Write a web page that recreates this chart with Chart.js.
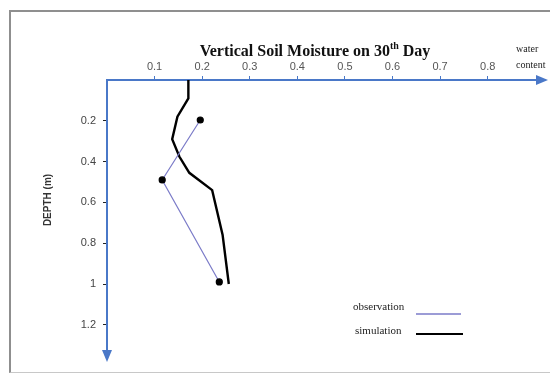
<!DOCTYPE html>
<html>
<head>
<meta charset="utf-8">
<script src="https://cdn.jsdelivr.net/npm/chart.js@4"></script>
<style>
  html, body { margin: 0; padding: 0; background: #fff; }
  #wrap { position: relative; width: 550px; height: 374px; overflow: hidden; }
  #frame { position: absolute; left: 9px; top: 10px; width: 560px; height: 360px; border: 2px solid #8f8f8f; border-right: none; border-bottom: 1px solid #c8c8c8; }
  canvas { position: absolute; left: 0; top: 0; }
</style>
</head>
<body>
<div id="wrap">
  <div id="frame"></div>
  <canvas id="myChart" width="550" height="374"></canvas>
</div>
<script>
// water content (x) vs depth in m (y)
const simDepth = [0, 0.09, 0.18, 0.29, 0.375, 0.455, 0.54, 0.76, 1.0];
const simWater = [0.171, 0.171, 0.148, 0.137, 0.152, 0.173, 0.221, 0.243, 0.256];
const obsDepth = [0.196, 0.49, 0.99];
const obsWater = [0.196, 0.116, 0.236];
const xTicks = [0.1, 0.2, 0.3, 0.4, 0.5, 0.6, 0.7, 0.8];
const yTicks = [0.2, 0.4, 0.6, 0.8, 1, 1.2];

const axisBlue = '#4a78c8';
const obsColor = '#7b7bc8';

function toPoints(xs, ys) {
    return xs.map((v, i) => ({ x: v, y: ys[i] }));
}

// arrows, title, axis labels and the little legend
const decorations = {
    id: 'decorations',
    afterDraw(chart) {
        const ctx = chart.ctx;
        const a = chart.chartArea;
        ctx.save();

        // arrow heads
        ctx.fillStyle = axisBlue;
        ctx.beginPath();
        ctx.moveTo(a.right + 8, a.top);
        ctx.lineTo(a.right - 4, a.top - 5);
        ctx.lineTo(a.right - 4, a.top + 5);
        ctx.closePath();
        ctx.fill();
        ctx.beginPath();
        ctx.moveTo(a.left, a.bottom + 12);
        ctx.lineTo(a.left - 5, a.bottom);
        ctx.lineTo(a.left + 5, a.bottom);
        ctx.closePath();
        ctx.fill();

        // title with superscript
        ctx.fillStyle = '#111';
        ctx.textBaseline = 'alphabetic';
        ctx.textAlign = 'left';
        const big = 'bold 16px "Liberation Serif", serif';
        const small = 'bold 10px "Liberation Serif", serif';
        const p1 = 'Vertical Soil Moisture on 30', p2 = 'th', p3 = ' Day';
        ctx.font = big;
        const w1 = ctx.measureText(p1).width, w3 = ctx.measureText(p3).width;
        ctx.font = small;
        const w2 = ctx.measureText(p2).width;
        let x = 315 - (w1 + w2 + w3) / 2;
        ctx.font = big;
        ctx.fillText(p1, x, 56);
        ctx.font = small;
        ctx.fillText(p2, x + w1, 49);
        ctx.font = big;
        ctx.fillText(p3, x + w1 + w2, 56);

        // x axis name
        ctx.font = '10px "Liberation Serif", serif';
        ctx.fillStyle = '#222';
        ctx.fillText('water', 516, 52);
        ctx.fillText('content', 516, 68);

        // y axis name
        ctx.save();
        ctx.translate(51, 200);
        ctx.rotate(-Math.PI / 2);
        ctx.textAlign = 'center';
        ctx.font = 'bold 10px "Liberation Sans", sans-serif';
        ctx.fillStyle = '#333';
        ctx.fillText('DEPTH (m)', 0, 0);
        ctx.restore();

        // legend
        ctx.font = '11px "Liberation Serif", serif';
        ctx.fillStyle = '#222';
        ctx.fillText('observation', 353, 310);
        ctx.fillText('simulation', 355, 334);
        ctx.lineWidth = 1.5;
        ctx.strokeStyle = obsColor;
        ctx.beginPath();
        ctx.moveTo(416, 314);
        ctx.lineTo(461, 314);
        ctx.stroke();
        ctx.lineWidth = 2;
        ctx.strokeStyle = '#000';
        ctx.beginPath();
        ctx.moveTo(416, 334);
        ctx.lineTo(463, 334);
        ctx.stroke();

        ctx.restore();
    }
};

const config = {
    type: 'scatter',
    data: {
        datasets: [
            {
                label: 'observation',
                data: toPoints(obsWater, obsDepth),
                showLine: true,
                borderColor: obsColor,
                borderWidth: 1.2,
                pointRadius: 3,
                pointBackgroundColor: '#000',
                pointBorderColor: '#000',
                tension: 0
            },
            {
                label: 'simulation',
                data: toPoints(simWater, simDepth),
                showLine: true,
                borderColor: '#000',
                borderWidth: 2.4,
                pointRadius: 0,
                tension: 0
            }
        ]
    },
    options: {
        responsive: false,
        animation: false,
        layout: {
            padding: { left: 0, top: 0, right: 10, bottom: 24 }
        },
        plugins: {
            legend: { display: false },
            title: { display: false },
            tooltip: { enabled: false }
        },
        scales: {
            x: {
                type: 'linear',
                position: 'top',
                min: 0,
                max: 0.91,
                afterBuildTicks: (scale) => { scale.ticks = xTicks.map(v => ({ value: v })); },
                afterFit: (scale) => { scale.height = 80; },
                border: { color: axisBlue, width: 2 },
                grid: { drawOnChartArea: false, drawTicks: true, tickLength: 4, color: axisBlue },
                ticks: {
                    color: '#555',
                    padding: 2,
                    font: { family: '"Liberation Sans", sans-serif', size: 11 },
                    callback: (v) => String(v)
                }
            },
            y: {
                type: 'linear',
                reverse: true,
                min: 0,
                max: 1.3235,
                afterBuildTicks: (scale) => { scale.ticks = yTicks.map(v => ({ value: v })); },
                afterFit: (scale) => { scale.width = 107; },
                border: { color: axisBlue, width: 2 },
                grid: { drawOnChartArea: false, drawTicks: true, tickLength: 4, color: '#222' },
                ticks: {
                    color: '#444',
                    padding: 7,
                    font: { family: '"Liberation Sans", sans-serif', size: 11 },
                    callback: (v) => String(v)
                }
            }
        }
    },
    plugins: [decorations]
};

window.myChart = new Chart(document.getElementById('myChart'), config);
</script>
</body>
</html>
